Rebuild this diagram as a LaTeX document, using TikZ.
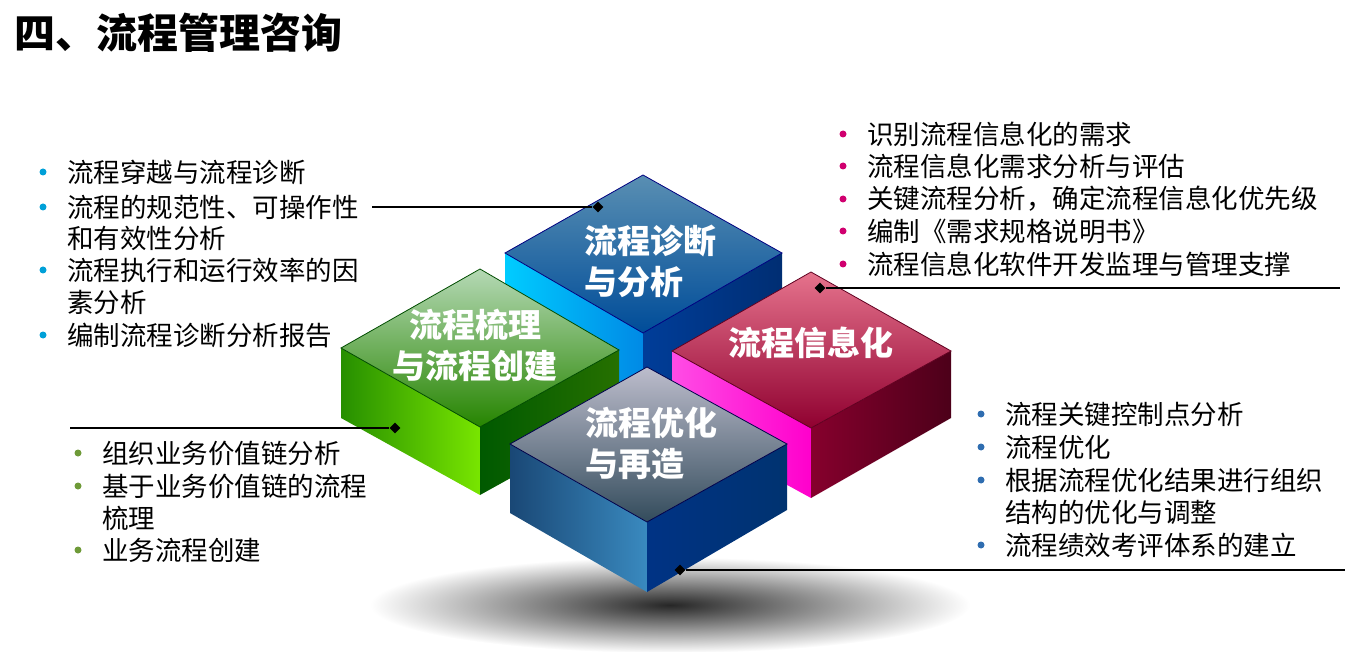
\documentclass[tikz,border=0pt]{standalone}
\usepackage{fontspec}
\setmainfont{Noto Sans CJK SC}
\usetikzlibrary{shapes.geometric}
\definecolor{bl1}{HTML}{00A0D8}
\definecolor{pk1}{HTML}{D0006F}
\definecolor{gr1}{HTML}{6E9A38}
\definecolor{bl2}{HTML}{2F6DB0}
\tikzset{
 txt/.style={anchor=west,inner sep=0pt,font=\fontsize{26.5}{30}\selectfont,align=left},
 blk/.style={inner sep=0pt,font=\bfseries\fontsize{33}{41}\selectfont,text=white,align=left},
 dia/.style={diamond,fill=black,inner sep=0pt,minimum size=11pt},
 ln/.style={line width=1.3pt}
}
\newcommand{\bul}[4]{\fill[#1] (#2,#3) circle (3.5);\node[txt] at (#2+24,#3) {#4};}
\begin{document}
\begin{tikzpicture}[x=1pt,y=-1pt]
\useasboundingbox (0,0) rectangle (1360,652);
\node[anchor=west,inner sep=0pt,font=\bfseries\fontsize{41}{44}\selectfont] (title) at (14,33) {四、流程管理咨询};
% shadow
\shade[inner color=black!85,outer color=white] (670,605) ellipse (300 and 48);
% top blue cube
\shade[left color=cyan!80!blue,right color=cyan!60!blue!90!black] (505,253) -- (643,333) -- (643,403) -- (505,323) -- cycle;
\shade[left color=blue!60!cyan!60!black,right color=blue!60!cyan!45!black] (643,333) -- (782,253) -- (782,323) -- (643,403) -- cycle;
\shade[top color=blue!40!cyan!50!white!70!black,bottom color=blue!50!cyan!60!black] (643,175) -- (782,253) -- (643,333) -- (505,253) -- cycle;
\draw[blue!50!black,line width=0.8pt] (643,175) -- (782,253) -- (643,333) -- (505,253) -- cycle;
% green cube
\shade[left color=green!45!black!80!lime,right color=lime!70!green!90!black] (341,348) -- (480,427) -- (480,495) -- (341,418) -- cycle;
\shade[left color=green!35!black,right color=green!30!black!80!lime] (480,427) -- (619,350) -- (619,418) -- (480,495) -- cycle;
\shade[top color=green!20!white!70!gray,bottom color=green!40!black!80!lime] (480,269) -- (619,350) -- (480,427) -- (341,348) -- cycle;
\draw[green!30!black,line width=0.8pt] (480,269) -- (619,350) -- (480,427) -- (341,348) -- cycle;
% pink cube
\shade[left color=magenta!60!pink,right color=magenta!80!red] (672,351) -- (811,428) -- (811,498) -- (672,422) -- cycle;
\shade[left color=purple!70!black,right color=purple!40!black] (811,428) -- (951,351) -- (951,418) -- (811,498) -- cycle;
\shade[top color=pink!60!purple,bottom color=purple!75!black] (811,272) -- (951,351) -- (811,428) -- (672,351) -- cycle;
\draw[purple!50!black,line width=0.8pt] (811,272) -- (951,351) -- (811,428) -- (672,351) -- cycle;
% front blue cube
\shade[left color=blue!50!cyan!40!black!90,right color=blue!40!cyan!70!white!75!black] (510,444) -- (647,522) -- (647,592) -- (510,513) -- cycle;
\shade[left color=blue!40!black!80!cyan,right color=blue!30!black!80!cyan] (647,522) -- (787,444) -- (787,510) -- (647,592) -- cycle;
\shade[top color=blue!10!white!60!gray,bottom color=blue!40!cyan!20!black!80] (647,367) -- (787,444) -- (647,522) -- (510,444) -- cycle;
\draw[blue!30!black,line width=0.8pt] (647,367) -- (787,444) -- (647,522) -- (510,444) -- cycle;
% block labels
\node[blk,anchor=west] (b1) at (584,261) {流程诊断\\与分析};
\node[blk,align=center] (b2) at (475,345) {流程梳理\\与流程创建};
\node[blk] (b3) at (811,343) {流程信息化};
\node[blk,anchor=west] (b4) at (585,443) {流程优化\\与再造};
% diamonds and lines
\node[dia] (d1) at (598,207) {};
\coordinate (e1) at (372,207);
\draw[ln] (e1) -- (d1);
\node[dia] (d2) at (820,288) {};
\coordinate (e2) at (1340,288);
\draw[ln] (d2) -- (e2);
\node[dia] (d3) at (395,428) {};
\coordinate (e3) at (70,428);
\draw[ln] (e3) -- (d3);
\node[dia] (d4) at (680,570) {};
\coordinate (e4) at (1345,570);
\draw[ln] (d4) -- (e4);
% left top
\bul{bl1}{43}{172}{流程穿越与流程诊断}
\bul{bl1}{43}{207}{流程的规范性、可操作性}
\node[txt] at (67,238) {和有效性分析};
\bul{bl1}{43}{270}{流程执行和运行效率的因}
\node[txt] at (67,302) {素分析};
\bul{bl1}{43}{335}{编制流程诊断分析报告}
% right top
\bul{pk1}{843}{134}{识别流程信息化的需求}
\bul{pk1}{843}{166}{流程信息化需求分析与评估}
\bul{pk1}{843}{199}{关键流程分析，确定流程信息化优先级}
\bul{pk1}{843}{231}{编制《需求规格说明书》}
\bul{pk1}{843}{264}{流程信息化软件开发监理与管理支撑}
% left bottom
\bul{gr1}{78}{453}{组织业务价值链分析}
\bul{gr1}{78}{486}{基于业务价值链的流程}
\node[txt] at (102,518) {梳理};
\bul{gr1}{78}{550}{业务流程创建}
% right bottom
\bul{bl2}{981}{414}{流程关键控制点分析}
\bul{bl2}{981}{447}{流程优化}
\bul{bl2}{981}{480}{根据流程优化结果进行组织}
\node[txt] at (1005,512) {结构的优化与调整};
\bul{bl2}{981}{545}{流程绩效考评体系的建立}
\end{tikzpicture}
\end{document}
